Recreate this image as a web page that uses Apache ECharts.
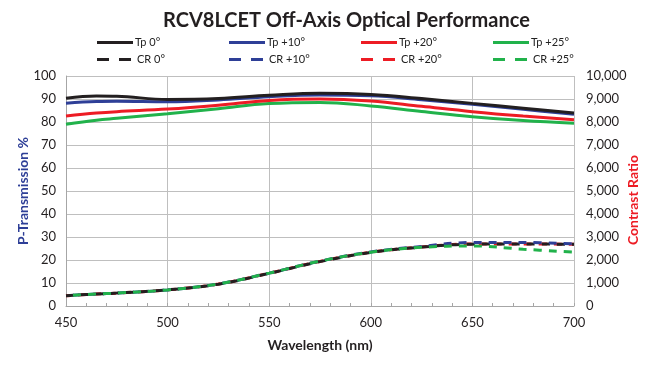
<!DOCTYPE html>
<html>
<head>
<meta charset="utf-8">
<script src="https://cdn.jsdelivr.net/npm/echarts@6/dist/echarts.min.js"></script>
<style>
  html, body { margin: 0; padding: 0; background: #fff; }
  #main { width: 649px; height: 369px; }
</style>
</head>
<body>
<div id="main"></div>
<script>
// wavelength samples (nm)
const wavelengths = [450, 465, 475, 500, 525, 550, 575, 600, 625, 650, 675, 700];

// P-transmission %
const tp0 = [90.3, 91.3, 91.2, 89.8, 90.2, 91.6, 92.5, 92.0, 90.2, 88.1, 86.0, 83.9];
const tp10 = [88.2, 88.9, 89.0, 88.8, 89.6, 91.0, 91.7, 91.4, 89.7, 87.7, 85.5, 83.4];
const tp20 = [82.6, 83.9, 84.5, 85.6, 87.3, 89.4, 90.0, 89.1, 86.8, 84.5, 82.6, 81.0];
const tp25 = [79.0, 80.8, 81.6, 83.6, 85.8, 88.0, 88.5, 87.0, 84.6, 82.3, 80.6, 79.5];

// contrast ratio, right axis
const cr0 = [450, 520, 560, 700, 950, 1420, 1930, 2330, 2560, 2690, 2700, 2680];
const cr10 = [450, 520, 560, 700, 960, 1430, 1950, 2350, 2590, 2760, 2760, 2700];
const cr20 = [450, 520, 560, 700, 955, 1425, 1940, 2335, 2570, 2700, 2700, 2680];
const cr25 = [450, 520, 560, 700, 960, 1430, 1950, 2340, 2550, 2610, 2470, 2340];

const leftTicks = [0, 100, 10];
const rightTicks = [0, 10000, 1000];

const legendRow1 = ['Tp 0°', 'Tp +10°', 'Tp +20°', 'Tp +25°'];
const legendRow2 = ['CR 0°', 'CR +10°', 'CR +20°', 'CR +25°'];

const colors = ['#231f20', '#2e3f97', '#ed1c24', '#21b24b'];
const dash = [8, 7];

function pairs(ys) {
  return wavelengths.map((x, i) => [x, ys[i]]);
}

function tpSeries(name, ys, color) {
  return {
    name: name,
    type: 'line',
    yAxisIndex: 0,
    smooth: 0.4,
    symbol: 'none',
    lineStyle: { color: color, width: 3 },
    itemStyle: { color: color },
    data: pairs(ys)
  };
}

function crSeries(name, ys, color, offset) {
  return {
    name: name,
    type: 'line',
    yAxisIndex: 1,
    smooth: 0.4,
    symbol: 'none',
    lineStyle: { color: color, width: 3, type: dash, dashOffset: offset },
    itemStyle: { color: color },
    data: pairs(ys)
  };
}

const font = 'Lato, "Open Sans", sans-serif';

// one legend per entry so the spacing matches the source
const solidIcon = 'path://M0,0H36V3H0Z';
const dashIcon = 'path://M0,0H12V3H0Z M22,0H34V3H22Z';
const legends = [];
[legendRow1, legendRow2].forEach((row, r) => {
  row.forEach((name, i) => {
    legends.push({
      left: 97 + i * 132,
      top: r === 0 ? 37 : 54,
      padding: 0,
      itemWidth: r === 0 ? 36 : 34,
      itemHeight: 3,
      itemGap: 0,
      icon: r === 0 ? solidIcon : dashIcon,
      textStyle: { fontFamily: font, fontSize: 11, color: '#222', padding: [0, 0, 0, r === 0 ? -3 : 1] },
      data: [name]
    });
  });
});

const chart = echarts.init(document.getElementById('main'));

chart.setOption({
  animation: false,
  textStyle: { fontFamily: font },
  title: {
    text: 'RCV8LCET Off-Axis Optical Performance',
    left: 158,
    top: 6,
    textStyle: { fontFamily: font, fontSize: 20, fontWeight: 'bold', color: '#231f20' }
  },
  legend: legends,
  grid: { left: 66, right: 75, top: 76, bottom: 63, outerBoundsMode: 'none', containLabel: false },
  xAxis: {
    type: 'value',
    min: 450, max: 700, interval: 50,
    name: 'Wavelength (nm)',
    nameLocation: 'middle',
    nameGap: 32,
    nameMoveOverlap: false,
    nameTextStyle: { fontFamily: font, fontSize: 14, fontWeight: 'bold', color: '#231f20' },
    axisLine: { lineStyle: { color: '#a6a6a6' } },
    axisTick: { show: true, inside: true, length: 3, lineStyle: { color: '#a6a6a6' } },
    minorTick: { show: true, splitNumber: 5, length: 3, lineStyle: { color: '#a6a6a6' } },
    splitLine: { lineStyle: { color: '#bfbfbf' } },
    axisLabel: { fontSize: 13, color: '#231f20', margin: 10 }
  },
  yAxis: [
    {
      type: 'value',
      min: leftTicks[0], max: leftTicks[1], interval: leftTicks[2],
      name: 'P-Transmission %',
      nameLocation: 'middle',
      nameGap: 36,
      nameMoveOverlap: false,
      nameTextStyle: { fontFamily: font, fontSize: 14, fontWeight: 'bold', color: '#2e3f97' },
      axisLine: { show: true, lineStyle: { color: '#a6a6a6' } },
      axisTick: { show: false },
      splitLine: { lineStyle: { color: '#bfbfbf' } },
      axisLabel: { fontSize: 13, color: '#231f20', margin: 10 }
    },
    {
      type: 'value',
      min: rightTicks[0], max: rightTicks[1], interval: rightTicks[2],
      name: 'Contrast Ratio',
      nameLocation: 'middle',
      nameGap: 52,
      nameRotate: 90,
      nameMoveOverlap: false,
      nameTextStyle: {
        fontFamily: font, fontSize: 14, fontWeight: 'bold', color: '#ed1c24',
        padding: [0, 18, 0, 0]
      },
      axisLine: { show: false },
      axisTick: { show: false },
      splitLine: { show: false },
      axisLabel: {
        fontSize: 13, color: '#231f20', margin: 12,
        formatter: v => v.toLocaleString('en-US')
      }
    }
  ],
  series: [
    crSeries(legendRow2[2], cr20, colors[2], 3),
    crSeries(legendRow2[0], cr0, colors[0], 0),
    crSeries(legendRow2[1], cr10, colors[1], 8),
    crSeries(legendRow2[3], cr25, colors[3], 8),
    tpSeries(legendRow1[3], tp25, colors[3]),
    tpSeries(legendRow1[2], tp20, colors[2]),
    tpSeries(legendRow1[1], tp10, colors[1]),
    tpSeries(legendRow1[0], tp0, colors[0])
  ]
});
</script>
</body>
</html>
